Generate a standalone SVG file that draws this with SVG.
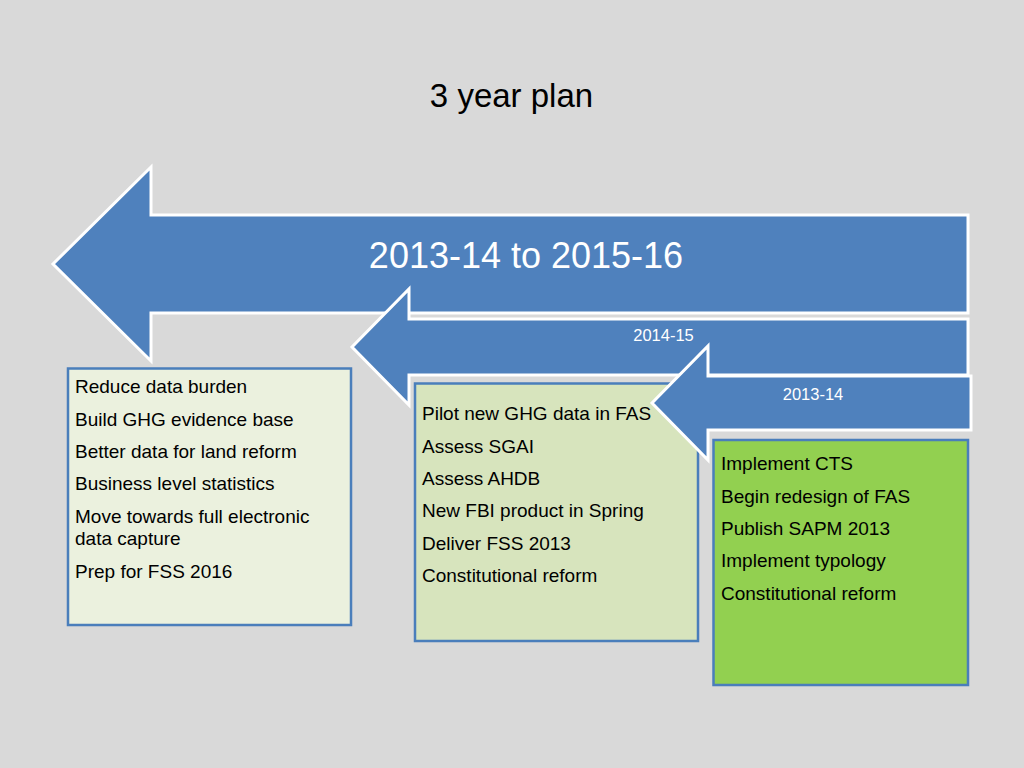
<svg xmlns="http://www.w3.org/2000/svg" width="1024" height="768" viewBox="0 0 1024 768">
  <style>
    .arrow { fill: #4f81bd; stroke: #ffffff; stroke-width: 3; stroke-linejoin: miter; }
    .box { stroke: #4a7ebb; stroke-width: 2.5; }
    .item { font-family: "Liberation Sans", Arial, sans-serif; font-size: 19px; fill: #000000; }
    .lbl { font-family: "Liberation Sans", Arial, sans-serif; fill: #ffffff; text-anchor: middle; }
  </style>
  <rect x="0" y="0" width="1024" height="768" fill="#d9d9d9"/>
  <text x="511.5" y="107" font-family="Liberation Sans, Arial, sans-serif" font-size="33" fill="#000000" text-anchor="middle">3 year plan</text>

  <g id="arrow-2013-14-to-2015-16">
    <polygon class="arrow" points="968,215 151,215 151,167 53,264 151,361 151,313 968,313"/>
    <text class="lbl" x="526" y="268" font-size="36">2013-14 to 2015-16</text>
  </g>
  <g id="arrow-2014-15">
    <polygon class="arrow" points="968,319 409,319 409,289 352,347 409,405 409,375 968,375"/>
    <text class="lbl" x="663.5" y="341" font-size="16.5">2014-15</text>
  </g>
  <g id="box-2013-16">
    <rect class="box" x="68" y="368.5" width="283" height="256.5" fill="#ebf1de"/>
    <text class="item" x="75" y="393">Reduce data burden</text>
    <text class="item" x="75" y="426">Build GHG evidence base</text>
    <text class="item" x="75" y="458">Better data for land reform</text>
    <text class="item" x="75" y="490">Business level statistics</text>
    <text class="item" x="75" y="523">Move towards full electronic</text>
    <text class="item" x="75" y="545">data capture</text>
    <text class="item" x="75" y="578">Prep for FSS 2016</text>
  </g>
  <g id="box-2014-15">
    <rect class="box" x="415" y="383.5" width="283" height="257.5" fill="#d7e4bd"/>
    <text class="item" x="422" y="420">Pilot new GHG data in FAS</text>
    <text class="item" x="422" y="453">Assess SGAI</text>
    <text class="item" x="422" y="485">Assess AHDB</text>
    <text class="item" x="422" y="517">New FBI product in Spring</text>
    <text class="item" x="422" y="550">Deliver FSS 2013</text>
    <text class="item" x="422" y="582">Constitutional reform</text>
  </g>
  <g id="arrow-2013-14">
    <polygon class="arrow" points="971,376 708,376 708,346 652,403 708,460 708,430 971,430"/>
    <text class="lbl" x="813" y="400" font-size="16.5">2013-14</text>
  </g>
  <g id="box-2013-14">
    <rect class="box" x="713.5" y="440" width="254.5" height="245" fill="#92d050"/>
    <text class="item" x="721" y="470">Implement CTS</text>
    <text class="item" x="721" y="503">Begin redesign of FAS</text>
    <text class="item" x="721" y="535">Publish SAPM 2013</text>
    <text class="item" x="721" y="567">Implement typology</text>
    <text class="item" x="721" y="600">Constitutional reform</text>
  </g>
  <g id="connectors"></g>
</svg>
